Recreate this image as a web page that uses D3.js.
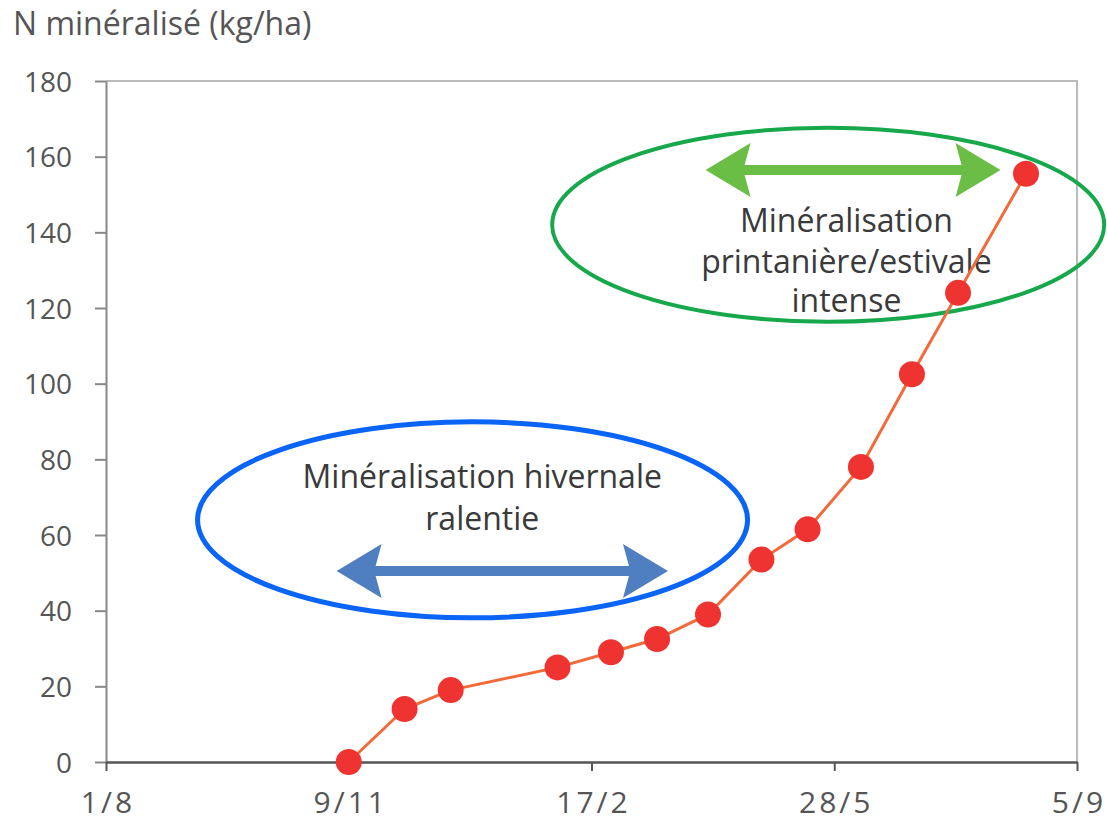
<!DOCTYPE html>
<html lang="fr">
<head>
<meta charset="UTF-8">
<title>N minéralisé</title>
<style>
  body { margin: 0; background: #fff; }
  text { font-family: "Open Sans", "DejaVu Sans", sans-serif; }
</style>
</head>
<body>
<script src="https://d3js.org/d3.v7.min.js"></script>
<script>
// days counted from 1/8, cumulated mineralised N (kg/ha)
const days = [100, 123, 142, 186, 208, 227, 248, 270, 289, 311, 332, 351, 379]
const values = [0, 14, 19, 25, 29, 32.5, 39, 53.5, 61.5, 78, 102.5, 124, 155.5]
const tickDays = [0, 100, 200, 300, 400]
const tickLabels = ['1/8', '9/11', '17/2', '28/5', '5/9']
const yTicks = [0, 20, 40, 60, 80, 100, 120, 140, 160, 180]

const width = 1107, height = 825
const margin = { top: 81, right: 30, bottom: 63, left: 106 }

const svg = d3.select('body').append('svg')
  .attr('width', width)
  .attr('height', height)

const x = d3.scaleLinear().domain([0, 400]).range([margin.left, width - margin.right])
const y = d3.scaleLinear().domain([0, 180]).range([height - margin.bottom, margin.top])

// title
svg.append('text')
  .attr('x', 13).attr('y', 35)
  .attr('font-size', 32)
  .attr('fill', '#555')
  .text('N minéralisé (kg/ha)')

// frame (top/right light)
svg.append('path')
  .attr('d', `M${x(0)},${y(180)}H${x(400)}V${y(0)}`)
  .attr('fill', 'none')
  .attr('stroke', '#bbb')
  .attr('stroke-width', 2)

// y axis
const yAxis = svg.append('g')
  .attr('transform', `translate(${x(0)},0)`)
  .call(d3.axisLeft(y).tickValues(yTicks).tickSize(11).tickSizeOuter(0).tickPadding(23))
yAxis.select('.domain').attr('stroke', '#888').attr('stroke-width', 2)
yAxis.selectAll('.tick line').attr('stroke', '#888').attr('stroke-width', 2)
yAxis.selectAll('.tick text')
  .attr('font-size', 28)
  .attr('fill', '#555')
  .attr('font-family', '"Liberation Sans Narrow", "Liberation Sans", sans-serif')
  .attr('dy', '0.36em')

// x axis
const xAxis = svg.append('g')
  .attr('transform', `translate(0,${y(0)})`)
  .call(d3.axisBottom(x).tickValues(tickDays).tickFormat((d, i) => tickLabels[i])
    .tickSize(9).tickSizeOuter(0).tickPadding(21))
xAxis.select('.domain').attr('stroke', '#555').attr('stroke-width', 2.5)
xAxis.selectAll('.tick line').attr('stroke', '#555').attr('stroke-width', 2)
xAxis.selectAll('.tick text')
  .attr('font-size', 30)
  .attr('letter-spacing', 3)
  .attr('dx', 1.5)
  .attr('fill', '#555')

// annotations: ellipses
svg.append('ellipse')
  .attr('cx', x(297.5)).attr('cy', y(142))
  .attr('rx', 276).attr('ry', 97)
  .attr('fill', 'none')
  .attr('stroke', '#16a84a')
  .attr('stroke-width', 4)

svg.append('ellipse')
  .attr('cx', x(151)).attr('cy', y(64))
  .attr('rx', 275).attr('ry', 98)
  .attr('fill', 'none')
  .attr('stroke', '#0a64f5')
  .attr('stroke-width', 5)

// double arrows
function arrow(x1, x2, yc, color) {
  const sh = 5, hl = 45, hh = 27
  const p = [
    [x1, yc], [x1 + hl, yc - hh], [x1 + hl - 6, yc - sh], [x2 - hl + 6, yc - sh],
    [x2 - hl, yc - hh], [x2, yc], [x2 - hl, yc + hh], [x2 - hl + 6, yc + sh],
    [x1 + hl - 6, yc + sh], [x1 + hl, yc + hh]
  ]
  svg.append('path')
    .attr('d', 'M' + p.map(d => d.join(',')).join('L') + 'Z')
    .attr('fill', color)
}
arrow(x(247), x(368.5), y(156.5), '#6abd45')
arrow(x(95), x(231.5), y(50.5), '#4f7fc0')

// annotation texts
const noteStyle = sel => sel.attr('font-size', 32).attr('fill', '#3a3a3a').attr('text-anchor', 'middle')
svg.append('text').call(noteStyle).attr('x', x(305)).attr('y', y(140.1)).text('Minéralisation')
svg.append('text').call(noteStyle).attr('x', x(305)).attr('y', y(129.3)).text('printanière/estivale')
svg.append('text').call(noteStyle).attr('x', x(305)).attr('y', y(118.9)).text('intense')
svg.append('text').call(noteStyle).attr('x', x(155)).attr('y', y(72.4)).text('Minéralisation hivernale')
svg.append('text').call(noteStyle).attr('x', x(155)).attr('y', y(61.4)).text('ralentie')

// series
const pts = days.map((d, i) => ({ day: d, value: values[i] }))

svg.append('path')
  .datum(pts)
  .attr('fill', 'none')
  .attr('stroke', '#f26a3a')
  .attr('stroke-width', 3)
  .attr('d', d3.line().x(d => x(d.day)).y(d => y(d.value)))

svg.selectAll('circle.pt')
  .data(pts)
  .enter()
  .append('circle')
  .attr('class', 'pt')
  .attr('cx', d => x(d.day))
  .attr('cy', d => y(d.value))
  .attr('r', 13)
  .attr('fill', '#ee3330')
</script>
</body>
</html>
